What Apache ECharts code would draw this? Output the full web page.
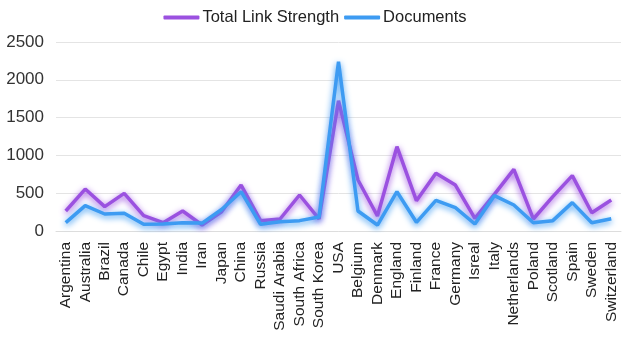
<!DOCTYPE html>
<html>
<head>
<meta charset="utf-8">
<script src="https://cdn.jsdelivr.net/npm/echarts@6/dist/echarts.min.js"></script>
<style>
    html, body {margin: 0; padding: 0; background: #fff;}
    #main {width: 630px; height: 345px;}
</style>
</head>
<body>
<div id="main"></div>
<script>
    var countries = ['Argentina', 'Australia', 'Brazil', 'Canada', 'Chile', 'Egypt', 'India', 'Iran', 'Japan', 'China',
        'Russia', 'Saudi Arabia', 'South Africa', 'South Korea', 'USA', 'Belgium', 'Denmark', 'England', 'Finland',
        'France', 'Germany', 'Isreal', 'Italy', 'Netherlands', 'Poland', 'Scotland', 'Spain', 'Sweden', 'Switzerland'];
    var linkStrength = [265, 555, 322, 498, 203, 110, 265, 79, 255, 608,
        137, 159, 476, 160, 1724, 675, 198, 1115, 401,
        763, 608, 168, 485, 816, 159, 454, 732, 242, 410];
    var documents = [110, 335, 225, 234, 88, 93, 110, 105, 285, 520,
        88, 123, 137, 185, 2240, 265, 79, 520, 115,
        406, 308, 93, 467, 344, 110, 137, 375, 110, 163];
    var yTicks = [0, 500, 1000, 1500, 2000, 2500];

    var font = 'Liberation Sans, Arial, sans-serif';
    var chart = echarts.init(document.getElementById('main'));

    function lineSeries(name, color, data) {
        return {
            name: name,
            type: 'line',
            data: data,
            symbol: 'none',
            lineStyle: {
                color: color, width: 3.5,
                shadowColor: color, shadowBlur: 6, shadowOffsetY: 2
            },
            itemStyle: {color: color}
        };
    }

    chart.setOption({
        animation: false,
        legend: {
            top: 4,
            left: 'center',
            itemWidth: 36,
            itemHeight: 4,
            itemGap: 5,
            icon: 'roundRect',
            textStyle: {fontSize: 16.5, color: '#222', fontFamily: font, padding: [0, 0, 0, -2]},
            data: ['Total Link Strength', 'Documents']
        },
        grid: {left: 56, right: 9, top: 42, bottom: 114},
        xAxis: {
            type: 'category',
            data: countries,
            boundaryGap: true,
            axisLine: {lineStyle: {color: '#dddddd'}},
            axisTick: {show: false},
            axisLabel: {
                rotate: 90, interval: 0, fontSize: 15.5, color: '#222', fontFamily: font, margin: 11
            }
        },
        yAxis: {
            type: 'value',
            min: yTicks[0],
            max: yTicks[yTicks.length - 1],
            interval: 500,
            axisLine: {show: false},
            axisTick: {show: false},
            splitLine: {lineStyle: {color: '#e4e4e4'}},
            axisLabel: {
                fontSize: 17, color: '#333', fontFamily: font, margin: 12,
                formatter: function (v) { return String(v); }
            }
        },
        series: [
            lineSeries('Total Link Strength', '#9b51e0', linkStrength),
            lineSeries('Documents', '#3d9bf2', documents)
        ]
    });
</script>
</body>
</html>
